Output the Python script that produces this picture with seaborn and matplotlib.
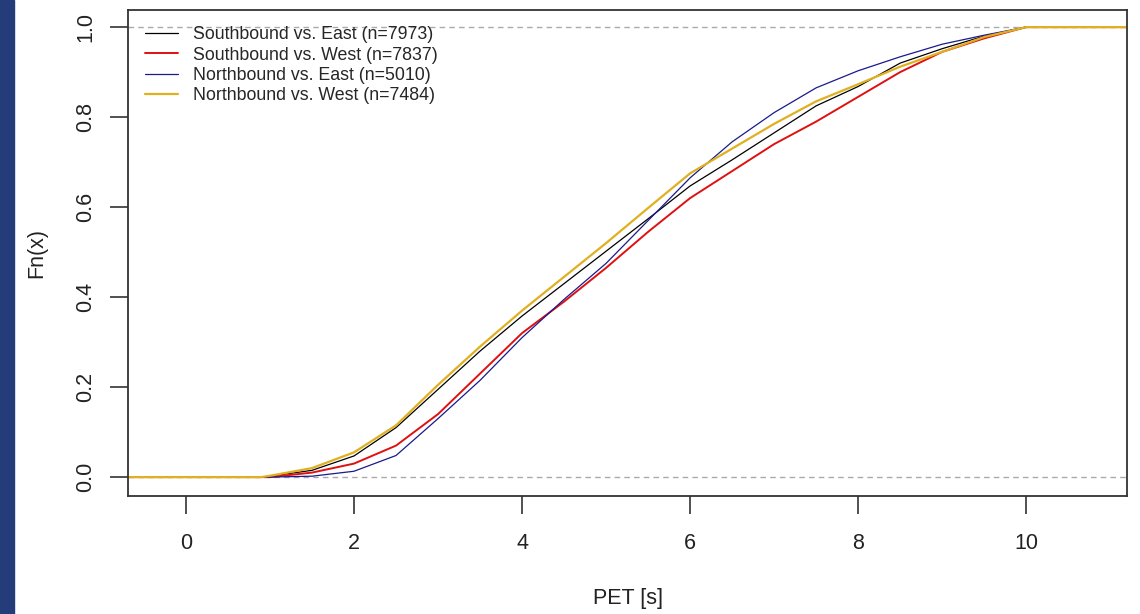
import matplotlib
matplotlib.use("Agg")
import matplotlib.pyplot as plt
import numpy as np
import pandas as pd
import seaborn as sns
from matplotlib.lines import Line2D
from matplotlib.patches import Rectangle

pet_grid = [-1.0, 0.9, 1.0, 1.5, 2.0, 2.5, 3.0, 3.5, 4.0, 4.5, 5.0,
            5.5, 6.0, 6.5, 7.0, 7.5, 8.0, 8.5, 9.0, 9.5, 10.0, 12.0]

south_east = [0.0, 0.0, 0.002, 0.015, 0.047, 0.11, 0.195, 0.28, 0.358, 0.43, 0.502,
              0.574, 0.647, 0.705, 0.765, 0.825, 0.868, 0.92, 0.952, 0.98, 1.0, 1.0]
south_west = [0.0, 0.0, 0.0, 0.01, 0.03, 0.07, 0.14, 0.23, 0.32, 0.39, 0.465,
              0.545, 0.62, 0.68, 0.74, 0.79, 0.845, 0.90, 0.945, 0.975, 1.0, 1.0]
north_east = [0.0, 0.0, 0.0, 0.002, 0.013, 0.048, 0.13, 0.215, 0.31, 0.395, 0.475,
              0.57, 0.665, 0.745, 0.81, 0.865, 0.903, 0.934, 0.962, 0.982, 1.0, 1.0]
north_west = [0.0, 0.0, 0.003, 0.02, 0.055, 0.115, 0.205, 0.29, 0.37, 0.445, 0.52,
              0.598, 0.675, 0.73, 0.785, 0.835, 0.873, 0.912, 0.945, 0.978, 1.0, 1.0]

labels = ["Southbound vs. East (n=7973)", "Southbound vs. West (n=7837)",
          "Northbound vs. East (n=5010)", "Northbound vs. West (n=7484)"]
colors = ["black", "#e01010", "#1a1a8c", "#e0b020"]
widths = [0.9, 1.4, 0.9, 1.6]

sns.set_style("white")
plt.rcParams['font.family'] = ['Liberation Sans', 'DejaVu Sans']

frames = []
for lab, vals in zip(labels, [south_east, south_west, north_east, north_west]):
    frames.append(pd.DataFrame({"PET": pet_grid, "Fn": vals, "group": lab}))
df = pd.concat(frames, ignore_index=True)

fig = plt.figure(figsize=(11.4, 6.14), dpi=100)
ax = fig.add_axes([0.1123, 0.1922, 0.9886 - 0.1123, 0.9837 - 0.1922])

# dashed reference lines at 0 and 1
for yv in [0, 1]:
    ax.axhline(yv, color="#aaaaaa", lw=1.0, ls=(0, (4, 3)), zorder=1)

for lab, col, lw in zip(labels, colors, widths):
    sns.lineplot(data=df[df["group"] == lab], x="PET", y="Fn", color=col,
                 lw=lw, estimator=None, sort=False, ax=ax, legend=False, zorder=2)

ax.set_xlim(-0.69, 11.2)
ax.set_ylim(-0.042, 1.038)
ax.set_xticks([0, 2, 4, 6, 8, 10])
ax.set_yticks([0.0, 0.2, 0.4, 0.6, 0.8, 1.0])
ax.set_yticklabels(["0.0", "0.2", "0.4", "0.6", "0.8", "1.0"], rotation=90, va="center")
ax.tick_params(axis="both", direction="out", length=13, width=1.2, color="#333333",
               labelsize=15.5, labelcolor="#222222", pad=10, left=True, bottom=True)
ax.tick_params(axis="x", pad=14)
for sp in ax.spines.values():
    sp.set_color("#333333")
    sp.set_linewidth(1.3)

ax.set_xlabel("PET [s]", fontsize=15.5, color="#222222", labelpad=24)
ax.set_ylabel("Fn(x)", fontsize=15.5, color="#222222", labelpad=20)

handles = [Line2D([0], [0], color=c, lw=w) for c, w in zip(colors, widths)]
ax.legend(handles, labels, loc="upper left", bbox_to_anchor=(0.005, 0.992),
          frameon=False, fontsize=12.8, handlelength=1.85, handletextpad=0.8,
          labelspacing=0.18, borderaxespad=0.3)

# dark blue strip at the left border of the image
fig.patches.append(Rectangle((0, 0), 14 / 1140, 1, transform=fig.transFigure,
                             color="#253c7b", zorder=0))

fig.savefig("out.png", dpi=100)
